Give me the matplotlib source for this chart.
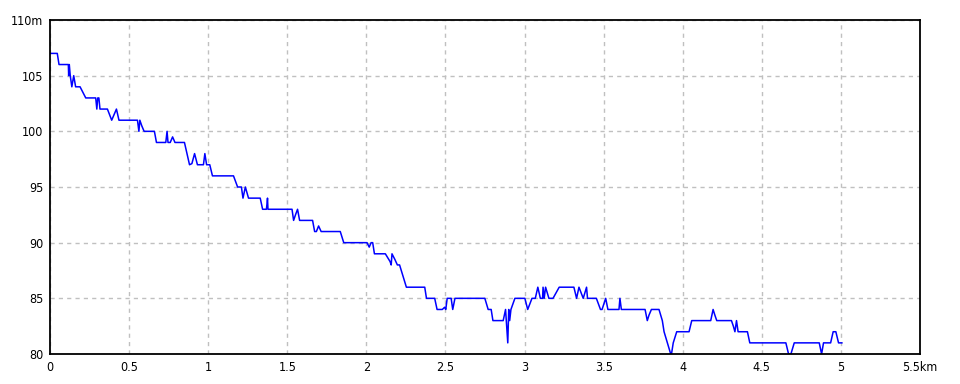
import matplotlib.pyplot as plt

# elevation profile (distance in km, elevation in m)
dist_km = [0.0, 0.046, 0.057, 0.116, 0.118, 0.122, 0.128, 0.138, 0.150, 0.162, 0.168, 0.190, 0.226,
           0.289, 0.296, 0.302, 0.309, 0.316, 0.363, 0.390, 0.420, 0.436, 0.553, 0.562, 0.568,
           0.580, 0.595, 0.660, 0.673, 0.732, 0.740, 0.746, 0.760, 0.775, 0.790, 0.850, 0.882,
           0.897, 0.914, 0.932, 0.970, 0.979, 0.990, 1.010, 1.027, 1.160, 1.186, 1.210, 1.220,
           1.235, 1.255, 1.329, 1.344, 1.368, 1.372, 1.375, 1.378, 1.530, 1.540, 1.552, 1.565,
           1.578, 1.660, 1.673, 1.684, 1.698, 1.714, 1.835, 1.857, 2.004, 2.018, 2.030, 2.040,
           2.051, 2.120, 2.150, 2.157, 2.162, 2.180, 2.196, 2.210, 2.253, 2.369, 2.380, 2.432,
           2.447, 2.480, 2.495, 2.502, 2.511, 2.536, 2.546, 2.560, 2.749, 2.770, 2.789, 2.800,
           2.865, 2.880, 2.886, 2.894, 2.900, 2.906, 2.914, 2.939, 3.002, 3.020, 3.047, 3.068,
           3.084, 3.100, 3.114, 3.117, 3.124, 3.133, 3.154, 3.180, 3.219, 3.312, 3.329, 3.344,
           3.371, 3.392, 3.398, 3.454, 3.480, 3.490, 3.513, 3.527, 3.597, 3.603, 3.612, 3.762,
           3.776, 3.787, 3.802, 3.850, 3.871, 3.882, 3.903, 3.924, 3.929, 3.940, 3.962, 4.040,
           4.057, 4.177, 4.192, 4.203, 4.215, 4.308, 4.320, 4.330, 4.340, 4.350, 4.409, 4.424,
           4.652, 4.669, 4.684, 4.705, 4.863, 4.878, 4.890, 4.935, 4.951, 4.968, 4.985, 5.006]
elev_m = [107, 107, 106, 106, 105, 106, 105, 104, 105, 104, 104, 104, 103,
          103, 102, 103, 103, 102, 102, 101, 102, 101, 101, 100, 101,
          100.5, 100, 100, 99, 99, 100, 99, 99, 99.5, 99, 99, 97,
          97.1, 98, 97, 97, 98, 97, 97, 96, 96, 95, 95, 94,
          95, 94, 94, 93, 93, 93.5, 94, 93, 93, 92, 92.5, 93,
          92, 92, 91, 91, 91.5, 91, 91, 90, 90, 89.6, 90, 90,
          89, 89, 88.3, 88, 89, 88.5, 88, 88, 86, 86, 85, 85,
          84, 84, 84.2, 84, 85, 85, 84, 85, 85, 84, 84, 83,
          83, 84, 82.7, 81, 84, 83, 84, 85, 85, 84, 85, 85,
          86, 85, 85, 86, 85, 86, 85, 85, 86, 86, 85, 86,
          85, 86, 85, 85, 84, 84, 85, 84, 84, 85, 84, 84,
          83, 83.5, 84, 84, 83, 82, 81, 80, 80, 81, 82, 82,
          83, 83, 84, 83.5, 83, 83, 82.5, 82, 83, 82, 82, 81,
          81, 80, 80, 81, 81, 80, 81, 81, 82, 82, 81, 81]

x_ticks = [0, 0.5, 1, 1.5, 2, 2.5, 3, 3.5, 4, 4.5, 5, 5.5]
x_labels = ['0', '0.5', '1', '1.5', '2', '2.5', '3', '3.5', '4', '4.5', '5', '5.5km']
y_ticks = [80, 85, 90, 95, 100, 105, 110]
y_labels = ['80', '85', '90', '95', '100', '105', '110m']

plt.rcParams['font.family'] = ['DejaVu Sans']
plt.rcParams['font.stretch'] = 'condensed'

fig = plt.figure(figsize=(9.6, 3.84), dpi=100)
ax = fig.add_axes([50 / 960, 30 / 384, 870 / 960, 334 / 384])

ax.plot(dist_km, elev_m, color='#0000ff', linewidth=1.1)

ax.set_xlim(0, 5.5)
ax.set_ylim(80, 110)
ax.set_xticks(x_ticks)
ax.set_xticklabels(x_labels)
ax.set_yticks(y_ticks)
ax.set_yticklabels(y_labels)
ax.tick_params(length=0, labelsize=9, pad=5)
ax.grid(True, color='#c0c0c0', linestyle=(0, (3, 3)), linewidth=1)
for s in ax.spines.values():
    s.set_linewidth(1.3)
    s.set_color('black')

fig.savefig('out.png', dpi=100)
